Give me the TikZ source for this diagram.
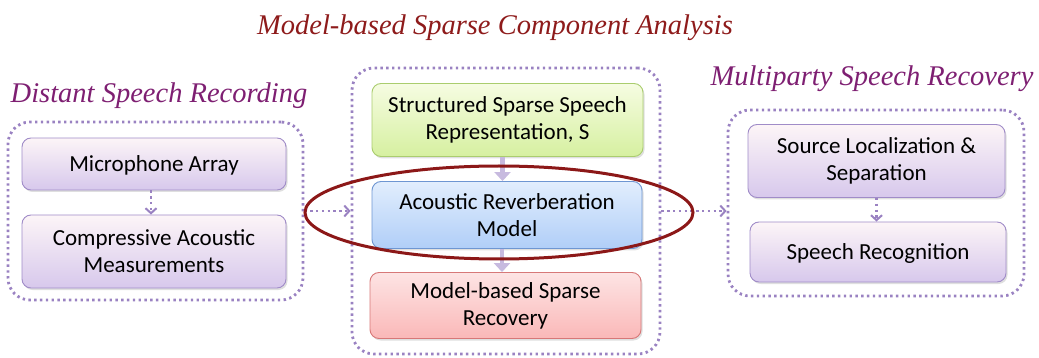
\documentclass[tikz,border=0pt]{standalone}
\usepackage{fontspec}
\setmainfont{Liberation Serif}
\newfontfamily\boxfont{Carlito}
\usetikzlibrary{arrows.meta,shapes.geometric,shadows}
\definecolor{grp}{HTML}{9A82C2}
\definecolor{ttlpurple}{HTML}{7E1F72}
\definecolor{ttlred}{HTML}{8E1B1B}
\definecolor{ellred}{HTML}{8C1818}
\definecolor{thickarr}{HTML}{C7BADF}
\tikzset{
  box/.style={rectangle, rounded corners=9pt, line width=0.9pt,
    font=\boxfont\fontsize{23}{27}\selectfont, align=center, inner sep=0pt,
    drop shadow={shadow xshift=1.5pt, shadow yshift=-2pt, opacity=0.25}},
  purplebox/.style={box, top color=purple!4!white, bottom color={rgb,255:red,215;green,200;blue,236}, draw={rgb,255:red,160;green,140;blue,200}},
  greenbox/.style={box, top color={rgb,255:red,246;green,252;blue,226}, bottom color={rgb,255:red,214;green,240;blue,160}, draw={rgb,255:red,170;green,205;blue,110}},
  bluebox/.style={box, top color={rgb,255:red,226;green,238;blue,253}, bottom color={rgb,255:red,176;green,206;blue,248}, draw={rgb,255:red,110;green,150;blue,210}},
  redbox/.style={box, top color={rgb,255:red,253;green,228;blue,228}, bottom color={rgb,255:red,250;green,184;blue,184}, draw={rgb,255:red,215;green,120;blue,120}},
  group/.style={rectangle, rounded corners=22pt, draw=grp, line width=2.8pt, dash pattern=on 2.4pt off 3.4pt, inner sep=0pt},
  dotarrow/.style={draw=grp, line width=2.8pt, dash pattern=on 2.4pt off 3.4pt, -{Straight Barb[length=5pt,width=11pt,line width=2pt,sep=0pt]}},
  thickarrow/.style={draw=thickarr, line width=4.5pt, -{Triangle[length=9pt,width=16pt]}},
  ttl/.style={font=\itshape\fontsize{28.5}{32}\selectfont, inner sep=0pt}
}
\begin{document}
\begin{tikzpicture}[x=1pt,y=-1pt]
\useasboundingbox (0,0) rectangle (1039,358);
% groups
\node[group, minimum width=295pt, minimum height=178pt] (lg) at (155.5,211) {};
\node[group, minimum width=308pt, minimum height=286pt] (mg) at (506,211) {};
\node[group, minimum width=296pt, minimum height=186pt] (rg) at (876,203) {};
% titles
\node[ttl, text=ttlred] (t1) at (495,28) {Model-based Sparse Component Analysis};
\node[ttl, text=ttlpurple] (t2) at (159,96) {Distant Speech Recording};
\node[ttl, text=ttlpurple] (t3) at (872,79) {Multiparty Speech Recovery};
% boxes
\node[purplebox, text depth=1pt, minimum width=264pt, minimum height=52pt] (mic) at (154,164) {Microphone Array};
\node[purplebox, minimum width=264pt, minimum height=73pt] (comp) at (154,251.5) {Compressive Acoustic\\Measurements};
\node[greenbox, minimum width=271pt, minimum height=73pt] (str) at (507.5,120) {Structured Sparse Speech\\Representation, S};
\node[bluebox, minimum width=270pt, minimum height=67pt] (acou) at (507,215) {Acoustic Reverberation\\Model};
\node[redbox, minimum width=271pt, minimum height=66pt] (mbsr) at (505.5,305.5) {Model-based Sparse\\Recovery};
\node[purplebox, minimum width=257pt, minimum height=73pt] (src) at (876.5,161) {Source Localization \&\\Separation};
\node[purplebox, text depth=1pt, minimum width=256pt, minimum height=60pt] (sr) at (878,252) {Speech Recognition};
% arrows inside
\draw[dotarrow] ([xshift=-3pt]mic.south) -- ([xshift=-3pt]comp.north);
\draw[dotarrow] (src.south) -- (src.south |- sr.north);
\draw[thickarrow] ([xshift=-5pt]str.south) -- ([xshift=-5pt]str.south |- acou.north);
\draw[thickarrow] ([xshift=-5pt]acou.south) -- ([xshift=-5pt]acou.south |- mbsr.north);
% group arrows
\draw[dotarrow] (lg.east) -- (lg.east -| mg.west);
\draw[dotarrow] (mg.east) -- (mg.east -| rg.west);
% ellipse
\node[ellipse, draw=ellred, line width=3pt, minimum width=388pt, minimum height=93pt, inner sep=0pt] (ell) at (499,212.5) {};
\end{tikzpicture}
\end{document}
